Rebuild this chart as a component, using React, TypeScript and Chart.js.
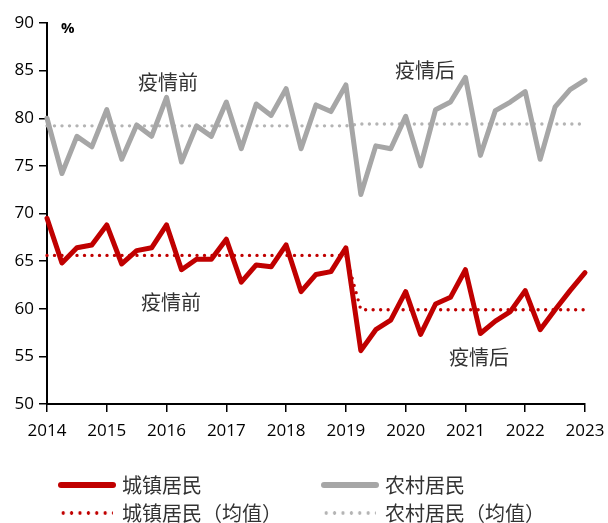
import React, { useEffect, useRef } from "react";
import { Chart, registerables } from "chart.js";

Chart.register(...registerables);

// ---- data ----
const years = ["2014", "2015", "2016", "2017", "2018", "2019", "2020", "2021", "2022", "2023"];
const quarters = [
  "2014Q1", "2014Q2", "2014Q3", "2014Q4", "2015Q1", "2015Q2", "2015Q3", "2015Q4",
  "2016Q1", "2016Q2", "2016Q3", "2016Q4", "2017Q1", "2017Q2", "2017Q3", "2017Q4",
  "2018Q1", "2018Q2", "2018Q3", "2018Q4", "2019Q1", "2019Q2", "2019Q3", "2019Q4",
  "2020Q1", "2020Q2", "2020Q3", "2020Q4", "2021Q1", "2021Q2", "2021Q3", "2021Q4",
  "2022Q1", "2022Q2", "2022Q3", "2022Q4", "2023Q1",
];
const urban = [
  69.5, 64.8, 66.4, 66.7, 68.8, 64.7, 66.1, 66.4, 68.8, 64.1, 65.2, 65.2,
  67.3, 62.8, 64.6, 64.4, 66.7, 61.8, 63.6, 63.9, 66.4, 55.6, 57.8, 58.8,
  61.8, 57.3, 60.5, 61.2, 64.1, 57.4, 58.7, 59.7, 61.9, 57.8, 59.9, 61.9, 63.8,
];
const rural = [
  80.0, 74.2, 78.1, 77.0, 80.9, 75.7, 79.3, 78.1, 82.2, 75.4, 79.2, 78.1,
  81.7, 76.8, 81.5, 80.3, 83.1, 76.8, 81.4, 80.7, 83.5, 72.0, 77.1, 76.8,
  80.2, 75.0, 80.9, 81.7, 84.3, 76.1, 80.8, 81.7, 82.8, 75.7, 81.2, 83.0, 84.0,
];
const urbanMeanPre = 65.6;
const urbanMeanPost = 59.9;
const ruralMeanPre = 79.2;
const ruralMeanPost = 79.4;
const firstPostIndex = 21;
const yMin = 50;
const yMax = 90;
const yStep = 5;
const notes = [
  { text: "疫情前", x: 8.1, y: 83.8 },
  { text: "疫情后", x: 25.3, y: 85.0 },
  { text: "疫情前", x: 8.3, y: 60.7 },
  { text: "疫情后", x: 28.9, y: 54.9 },
];
const seriesNames = ["城镇居民", "农村居民", "城镇居民（均值）", "农村居民（均值）"];

const RED = "#c00000";
const GREY = "#a6a6a6";
const GREY_DOT = "#b4b4b4";
const CJK = '"Noto Sans CJK SC", "Noto Sans", sans-serif';
const NUM = '"Open Sans", "Noto Sans", sans-serif';

const toPoints = (arr: number[]) => arr.map((v, i) => ({ x: i, y: v }));
const meanSeries = (pre: number, post: number) =>
  quarters.map((_, i) => ({ x: i, y: i < firstPostIndex ? pre : post }));

const notesPlugin = {
  id: "notes",
  afterDatasetsDraw(chart: any) {
    const { ctx, scales } = chart;
    ctx.save();
    ctx.font = `20px ${CJK}`;
    ctx.fillStyle = "#333333";
    ctx.textAlign = "center";
    ctx.textBaseline = "middle";
    notes.forEach((n) => {
      ctx.fillText(n.text, scales.x.getPixelForValue(n.x), scales.y.getPixelForValue(n.y));
    });
    ctx.restore();
  },
};

function LegendItem({ left, top, kind, color, label }: any) {
  const swatchStyle: React.CSSProperties =
    kind === "line"
      ? {
          position: "absolute",
          left: 0,
          top: 11,
          width: 58,
          height: 6,
          borderRadius: 3,
          background: color,
        }
      : {
          position: "absolute",
          left: 1,
          top: 12,
          width: 54,
          height: 4,
          background: `radial-gradient(circle, ${color} 1.5px, transparent 2px) 0 0 / 8.4px 4px repeat-x`,
        };
  return (
    <div style={{ position: "absolute", left, top, height: 28, width: 260 }}>
      <div style={swatchStyle} />
      <div
        style={{
          position: "absolute",
          left: 64,
          top: 0,
          lineHeight: "28px",
          fontSize: 20,
          fontFamily: CJK,
          color: "#333333",
          whiteSpace: "nowrap",
        }}
      >
        {label}
      </div>
    </div>
  );
}

export default function App() {
  const ref = useRef<HTMLCanvasElement | null>(null);

  useEffect(() => {
    if (!ref.current) return;
    const chart = new Chart(ref.current, {
      type: "line",
      data: {
        datasets: [
          {
            label: seriesNames[0],
            data: toPoints(urban),
            borderColor: RED,
            borderWidth: 5,
            borderJoinStyle: "round",
            borderCapStyle: "round",
            pointRadius: 0,
            tension: 0,
            clip: false,
          },
          {
            label: seriesNames[1],
            data: toPoints(rural),
            borderColor: GREY,
            borderWidth: 5,
            borderJoinStyle: "round",
            borderCapStyle: "round",
            pointRadius: 0,
            tension: 0,
            clip: false,
          },
          {
            label: seriesNames[2],
            data: meanSeries(urbanMeanPre, urbanMeanPost),
            borderColor: RED,
            borderWidth: 3.4,
            borderDash: [0, 7.5],
            borderCapStyle: "round",
            pointRadius: 0,
            tension: 0,
            clip: false,
          },
          {
            label: seriesNames[3],
            data: meanSeries(ruralMeanPre, ruralMeanPost),
            borderColor: GREY_DOT,
            borderWidth: 3.4,
            borderDash: [0, 7.5],
            borderCapStyle: "round",
            pointRadius: 0,
            tension: 0,
            clip: false,
          },
        ],
      },
      options: {
        responsive: false,
        animation: false,
        layout: { autoPadding: false, padding: { left: 0, right: 23, top: 23, bottom: 79 } },
        plugins: { legend: { display: false }, tooltip: { enabled: false } },
        scales: {
          x: {
            type: "linear",
            min: 0,
            max: quarters.length - 1,
            afterFit: (s: any) => {
              s.height = 40;
              s.paddingLeft = 0;
              s.paddingRight = 0;
            },
            ticks: {
              stepSize: 4,
              autoSkip: false,
              maxRotation: 0,
              padding: 9,
              color: "#000000",
              font: { family: NUM, size: 17 },
              callback: (v: any) => years[Math.round(Number(v) / 4)] ?? "",
            },
            grid: {
              drawOnChartArea: false,
              drawTicks: true,
              tickLength: 8,
              color: "#000000",
              lineWidth: 1.5,
            },
            border: { display: true, color: "#000000", width: 2 },
          },
          y: {
            type: "linear",
            min: yMin,
            max: yMax,
            afterFit: (s: any) => {
              s.width = 47;
              s.paddingTop = 0;
              s.paddingBottom = 0;
            },
            ticks: {
              stepSize: yStep,
              padding: 5,
              color: "#000000",
              font: { family: NUM, size: 17 },
            },
            grid: {
              drawOnChartArea: false,
              drawTicks: true,
              tickLength: 8,
              color: "#000000",
              lineWidth: 1.5,
            },
            border: { display: true, color: "#000000", width: 2 },
          },
        },
      },
      plugins: [notesPlugin],
    } as any);
    return () => chart.destroy();
  }, []);

  return (
    <div
      style={{
        position: "fixed",
        left: 0,
        top: 0,
        width: 608,
        height: 523,
        background: "#ffffff",
      }}
    >
      <canvas ref={ref} width={608} height={523} style={{ width: 608, height: 523, display: "block" }} />
      <div
        style={{
          position: "absolute",
          left: 61,
          top: 17,
          fontFamily: NUM,
          fontWeight: 700,
          fontSize: 15,
          lineHeight: "20px",
          color: "#000000",
        }}
      >
        %
      </div>
      <LegendItem left={58} top={471} kind="line" color={RED} label={seriesNames[0]} />
      <LegendItem left={321} top={471} kind="line" color={GREY} label={seriesNames[1]} />
      <LegendItem left={58} top={499} kind="dot" color={RED} label={seriesNames[2]} />
      <LegendItem left={321} top={499} kind="dot" color={GREY_DOT} label={seriesNames[3]} />
    </div>
  );
}
